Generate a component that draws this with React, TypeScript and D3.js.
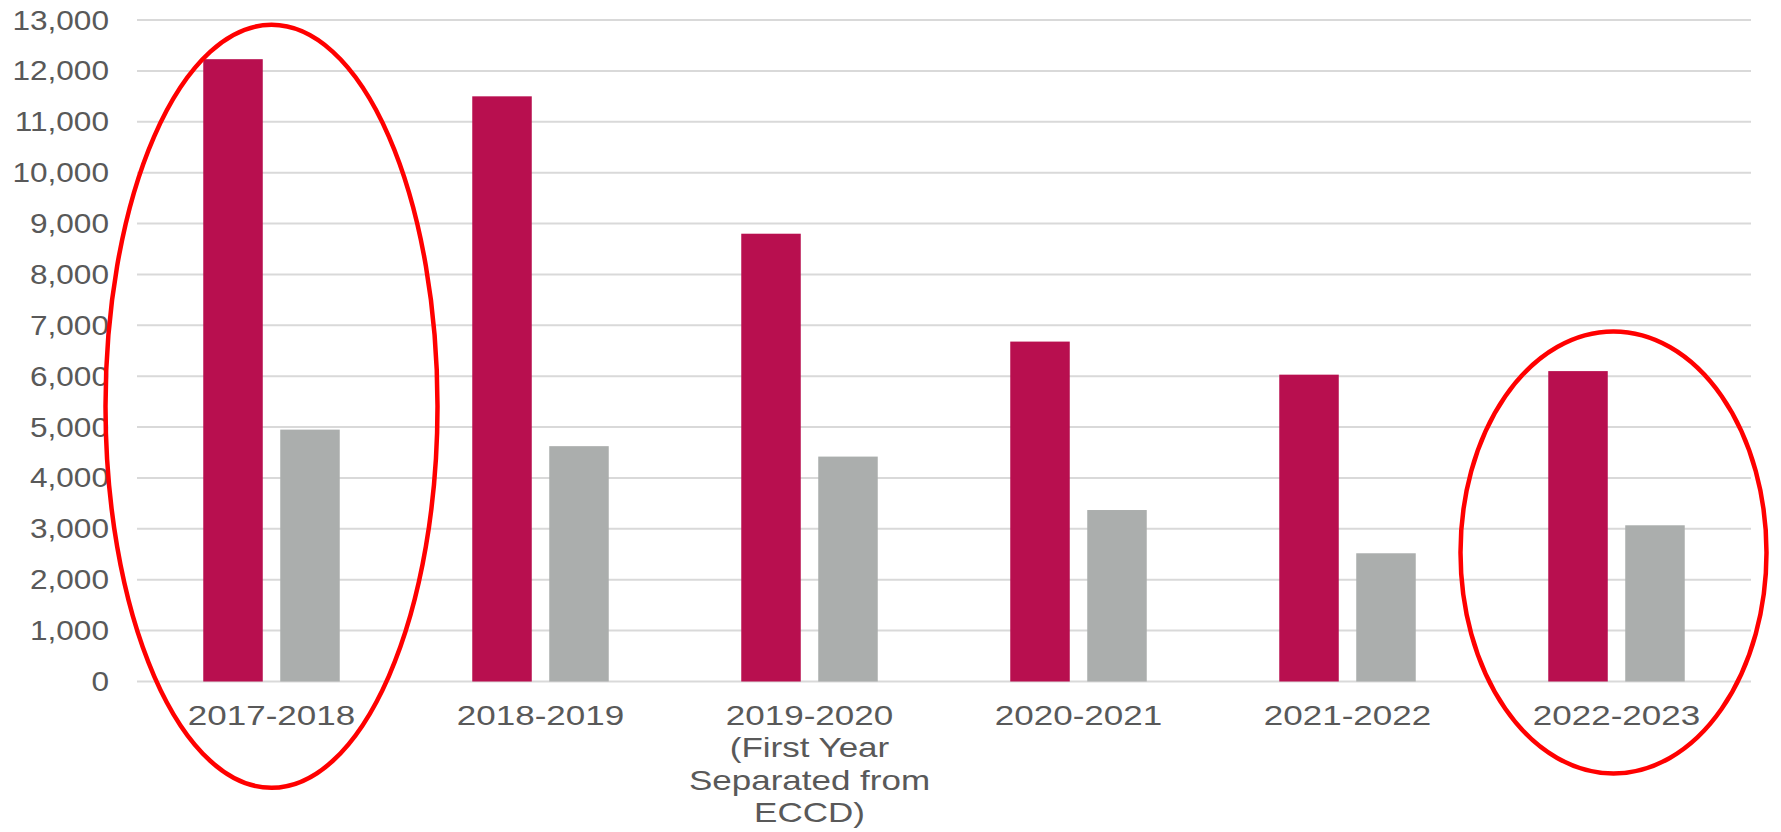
import React from "react";
import * as d3 from "d3";

const categories: string[][] = [
  ["2017-2018"],
  ["2018-2019"],
  ["2019-2020", "(First Year", "Separated from", "ECCD)"],
  ["2020-2021"],
  ["2021-2022"],
  ["2022-2023"],
];
const seriesA: number[] = [12230, 11500, 8800, 6680, 6030, 6100];
const seriesB: number[] = [4950, 4625, 4420, 3370, 2520, 3070];
const yTicks: number[] = [0, 1000, 2000, 3000, 4000, 5000, 6000, 7000, 8000, 9000, 10000, 11000, 12000, 13000];
const highlighted: number[] = [0, 5];

const W = 1781;
const H = 832;
const COLOR_A = "#B80F4F";
const COLOR_B = "#ABAEAD";
const TEXT = "#595959";
const FONT = "'Liberation Sans', Arial, sans-serif";

export default function App() {
  const keys = categories.map((c) => c[0]);
  const x0 = d3.scaleBand<string>().domain(keys).range([137, 1751]).paddingInner(0.4926).paddingOuter(0.2463);
  const x1 = d3.scaleBand<string>().domain(["a", "b"]).range([0, x0.bandwidth()]).paddingInner(0.227);
  const y = d3.scaleLinear().domain([0, 13000]).range([681.5, 20]);
  const fmt = d3.format(",");

  // annotation ellipses (sized in pixels around the highlighted groups)
  const ellipses = [
    { cx: x0(keys[highlighted[0]])! + x0.bandwidth() / 2, cy: 406.3, rx: 166, ry: 381.5 },
    { cx: x0(keys[highlighted[1]])! + x0.bandwidth() / 2 - 3, cy: 552.5, rx: 153, ry: 221 },
  ];

  return (
    <svg width={W} height={H} style={{ position: "absolute", left: 0, top: 0, display: "block" }}>
      <rect width={W} height={H} fill="#fff" />
      {yTicks.map((t) => (
        <g key={t}>
          <line x1={137} x2={1751} y1={y(t)} y2={y(t)} stroke="#D9D9D9" strokeWidth={2} />
          <text
            transform={`translate(109,${y(t) + 9.5}) scale(1.17,1)`}
            textAnchor="end"
            fontFamily={FONT}
            fontSize={27}
            fill={TEXT}
          >
            {fmt(t)}
          </text>
        </g>
      ))}
      {keys.map((k, i) => (
        <g key={k}>
          <rect
            x={x0(k)! + x1("a")!}
            y={y(seriesA[i])}
            width={x1.bandwidth()}
            height={y(0) - y(seriesA[i])}
            fill={COLOR_A}
          />
          <rect
            x={x0(k)! + x1("b")!}
            y={y(seriesB[i])}
            width={x1.bandwidth()}
            height={y(0) - y(seriesB[i])}
            fill={COLOR_B}
          />
          {categories[i].map((line, j) => (
            <text
              key={j}
              transform={`translate(${x0(k)! + x0.bandwidth() / 2},${725 + j * 32.3}) scale(1.25,1)`}
              textAnchor="middle"
              fontFamily={FONT}
              fontSize={28}
              fill={TEXT}
            >
              {line}
            </text>
          ))}
        </g>
      ))}
      {ellipses.map((e, i) => (
        <ellipse key={i} cx={e.cx} cy={e.cy} rx={e.rx} ry={e.ry} fill="none" stroke="#FF0000" strokeWidth={4.5} />
      ))}
    </svg>
  );
}
